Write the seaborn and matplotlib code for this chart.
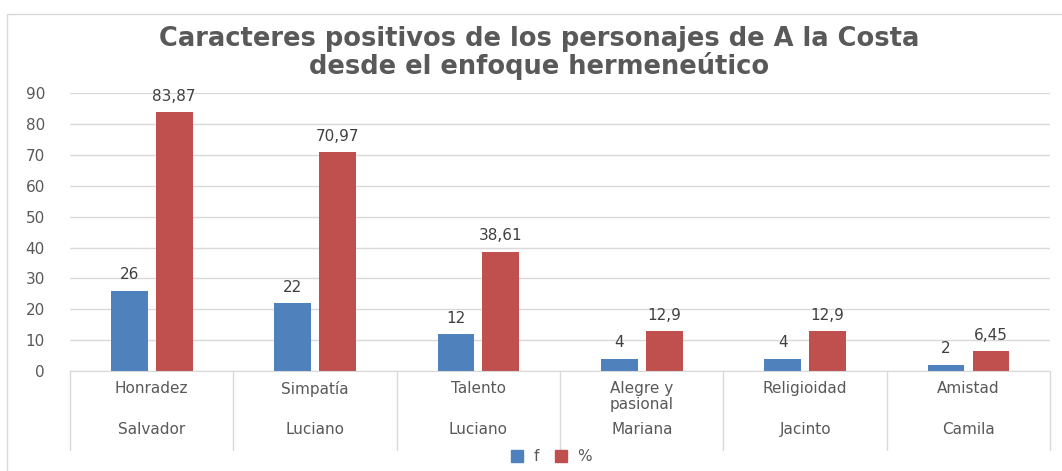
import pandas as pd
import numpy as np
import seaborn as sns
import matplotlib
matplotlib.use("Agg")
import matplotlib.pyplot as plt
import matplotlib.transforms as mtransforms
from matplotlib.patches import Rectangle

# data
rasgos = ["Honradez", "Simpatía", "Talento", "Alegre y\npasional", "Religioidad", "Amistad"]
personajes = ["Salvador", "Luciano", "Luciano", "Mariana", "Jacinto", "Camila"]
f_vals = [26, 22, 12, 4, 4, 2]
pct_vals = [83.87, 70.97, 38.61, 12.9, 12.9, 6.45]

titulo = "Caracteres positivos de los personajes de A la Costa\ndesde el enfoque hermeneútico"

keys = [str(i) for i in range(len(rasgos))]
df = pd.DataFrame({
    "cat": keys * 2,
    "serie": ["f"] * len(keys) + ["%"] * len(keys),
    "valor": f_vals + pct_vals,
})

sns.set_style("white")
plt.rcParams["font.family"] = ["DejaVu Sans"]

fig = plt.figure(figsize=(10.62, 4.71), dpi=100)
ax = fig.add_axes([0.0659, 0.2123, 0.923, 0.590])

colores = {"f": "#4F81BD", "%": "#C0504D"}
sns.barplot(data=df, x="cat", y="valor", hue="serie", palette=colores,
            width=0.55, gap=0.18, ax=ax, legend=False, saturation=1,
            linewidth=0)

ax.set_ylim(0, 90)
ax.set_yticks(range(0, 91, 10))
ax.set_xlim(-0.5, len(keys) - 0.5)
ax.yaxis.grid(True, color="#D9D9D9", linewidth=1)
ax.set_axisbelow(True)
for s in ["top", "right", "left"]:
    ax.spines[s].set_visible(False)
ax.spines["bottom"].set_color("#D9D9D9")
ax.tick_params(axis="y", length=0, pad=18, labelsize=11, labelcolor="#595959")
ax.tick_params(axis="x", length=0)
ax.set_xticklabels([])
ax.set_xlabel("")
ax.set_ylabel("")

# data labels
for cont in ax.containers:
    labels = [("%g" % v).replace(".", ",") for v in cont.datavalues]
    ax.bar_label(cont, labels=labels, padding=6, fontsize=11, color="#404040")

# two-level category axis
tr = mtransforms.blended_transform_factory(ax.transData, ax.transAxes)
for i, (r, p) in enumerate(zip(rasgos, personajes)):
    ax.text(i, -0.035, r, transform=tr, ha="center", va="top",
            fontsize=11, color="#595959", linespacing=1.1)
    ax.text(i, -0.185, p, transform=tr, ha="center", va="top",
            fontsize=11, color="#595959")
for b in np.arange(-0.5, len(keys), 1.0):
    ax.plot([b, b], [0, -0.285], transform=tr, color="#D9D9D9",
            linewidth=1, clip_on=False)

# legend
handles = [plt.Line2D([], [], marker="s", linestyle="", markersize=8,
                      color=colores[k]) for k in ["f", "%"]]
fig.legend(handles, ["f", "%"], loc="center", bbox_to_anchor=(0.515, 0.03),
           ncol=2, frameon=False, fontsize=11, handletextpad=0.1,
           columnspacing=0.4, labelcolor="#595959")

fig.text(0.508, 0.888, titulo, ha="center", va="center", fontsize=18.5,
         fontweight="bold", color="#595959", linespacing=1.0)

# chart border
fig.patches.append(Rectangle((0.0066, -0.1), 1.1, 1.07, transform=fig.transFigure,
                             fill=False, edgecolor="#D9D9D9", linewidth=1))

fig.savefig("out.png", dpi=100)
